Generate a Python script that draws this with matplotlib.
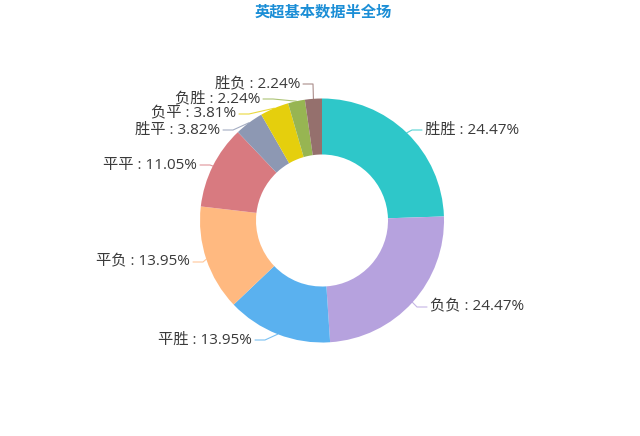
import numpy as np
import matplotlib
matplotlib.use("Agg")
import matplotlib.pyplot as plt

plt.rcParams['font.family'] = ['Open Sans', 'Noto Sans CJK SC', 'DejaVu Sans']

title = "英超基本数据半全场"
labels = ["胜胜", "负负", "平胜", "平负", "平平", "胜平", "负平", "负胜", "胜负"]
values = [24.47, 24.47, 13.95, 13.95, 11.05, 3.82, 3.81, 2.24, 2.24]
colors = ["#2ec7c9", "#b6a2de", "#5ab1ef", "#ffb980", "#d87a80",
          "#8d98b3", "#e5cf0d", "#97b552", "#95706d"]

# label layout (pixel coords from top-left): anchor x, y
label_x = [425, 430, 252, 190, 197, 220, 236, 260, 300]
label_y = [130, 307, 340, 262, 165, 130, 114, 99, 84]

W, H = 640, 436
cx, cy, R, r_in = 322, 220.5, 122, 66

fig = plt.figure(figsize=(6.4, 4.36), dpi=100)
ax = fig.add_axes([0, 0, 1, 1])

ax.pie(values, colors=colors, startangle=90, counterclock=False,
       center=(cx, H - cy), radius=R,
       wedgeprops=dict(width=R - r_in, linewidth=0))
# pie resets the limits, so set them afterwards
ax.set_xlim(0, W)
ax.set_ylim(0, H)
ax.set_aspect('equal')
ax.axis('off')

total = sum(values)
cum = np.cumsum([0] + values[:-1])
for i, (lab, v) in enumerate(zip(labels, values)):
    mid = np.deg2rad((cum[i] + v / 2) / total * 360)
    ex, ey = cx + R * np.sin(mid), cy - R * np.cos(mid)
    right = ex > cx
    sign = 1 if right else -1
    lx, ly = label_x[i], label_y[i]
    end_x = lx - sign * 3
    elbow_x = end_x - sign * 10
    ax.plot([ex, elbow_x, end_x], [H - ey, H - ly, H - ly],
            color=colors[i], lw=0.8, alpha=0.8, solid_capstyle='round')
    ax.text(lx, H - ly, f"{lab} : {v:.2f}%", fontsize=11, color="#3a3a3a",
            ha='left' if right else 'right', va='center')

ax.text(323, H - 12, title, fontsize=11, fontweight='bold', color="#1b8ed6",
        ha='center', va='center')

fig.savefig("out.png", dpi=100)
